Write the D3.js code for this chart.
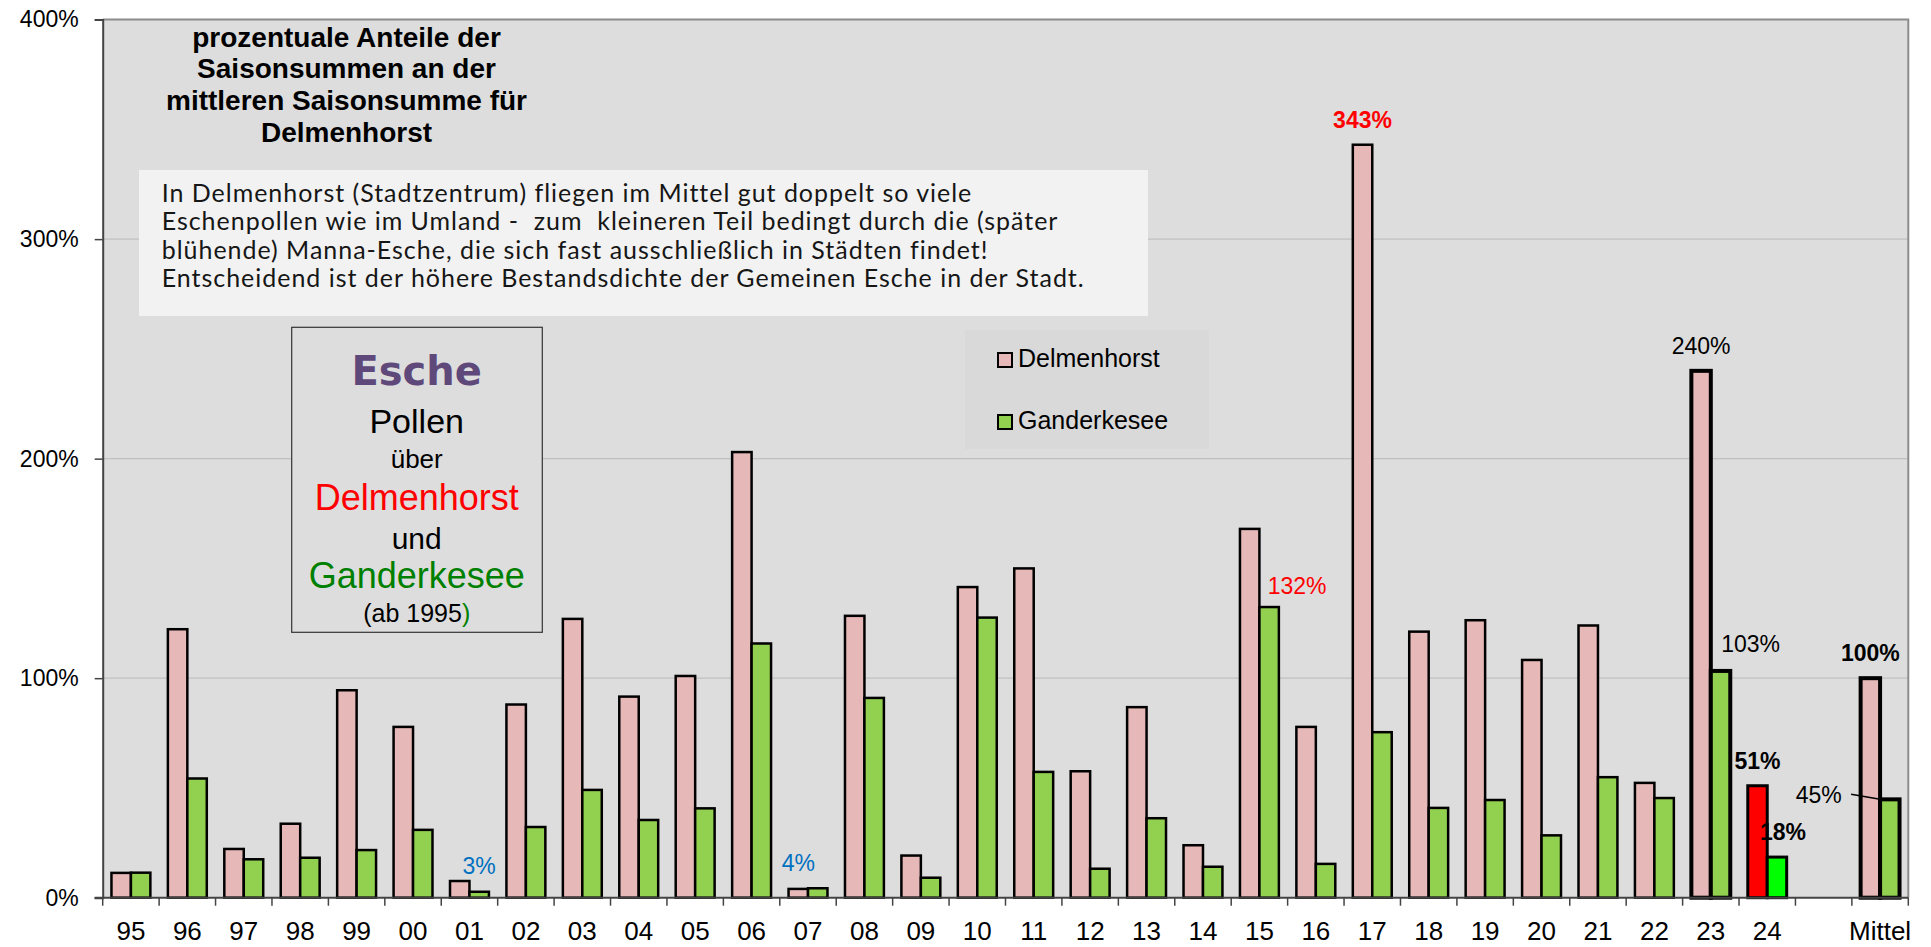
<!DOCTYPE html>
<html>
<head>
<meta charset="utf-8">
<script src="https://cdn.jsdelivr.net/npm/d3@7"></script>
<style>
  body { margin: 0; background: #fff; }
  svg { display: block; }
  .note-text { white-space: pre; }
</style>
</head>
<body>
<div id="chart"></div>
<script>
// Saison categories (95..24, a gap, then the mean)
const categories = ["95","96","97","98","99","00","01","02","03","04","05","06","07","08","09",
  "10","11","12","13","14","15","16","17","18","19","20","21","22","23","24","","Mittel"];

// percent of mean season sum
const delmenhorst = [11.3, 122.3, 22.2, 33.7, 94.5, 77.8, 7.6, 88.0, 127.0, 91.6, 101.0, 203.0, 4.0, 128.4, 19.2,
  141.5, 150.0, 57.6, 86.8, 23.9, 168.0, 77.8, 343.0, 121.2, 126.4, 108.3, 124.0, 52.3, 240.0, 51.0, null, 100.0];
const ganderkesee = [11.4, 54.3, 17.5, 18.2, 21.7, 30.9, 2.7, 32.2, 49.1, 35.4, 40.7, 115.8, 4.3, 91.0, 9.1,
  127.6, 57.3, 13.2, 36.2, 14.1, 132.4, 15.4, 75.4, 40.9, 44.5, 28.4, 54.9, 45.4, 103.3, 18.5, null, 44.8];

const series = ["Delmenhorst", "Ganderkesee"];
const yTicks = [0, 100, 200, 300, 400];

const titleLines = ["prozentuale Anteile der", "Saisonsummen an der", "mittleren Saisonsumme für", "Delmenhorst"];
const noteLines = [
  "In Delmenhorst (Stadtzentrum) fliegen im Mittel gut doppelt so viele",
  "Eschenpollen wie im Umland -  zum  kleineren Teil bedingt durch die (später",
  "blühende) Manna-Esche, die sich fast ausschließlich in Städten findet!",
  "Entscheidend ist der höhere Bestandsdichte der Gemeinen Esche in der Stadt."
];

const width = 1931;
const height = 947;
const plotLeft = 102.7, plotRight = 1908.3, plotTop = 19.6, plotBottom = 897.7;

const svg = d3.select("#chart")
  .append("svg")
  .attr("width", width)
  .attr("height", height)
  .attr("viewBox", [0, 0, width, height]);

const x = d3.scaleBand().domain(categories).range([plotLeft, plotRight]);
const x1 = d3.scaleBand().domain(series).range([0, x.bandwidth()]).paddingOuter(0.45);
const y = d3.scaleLinear().domain([0, 400]).range([plotBottom, plotTop]);

const pink = "#e6b8b7", green = "#92d050";

// plot area
svg.append("rect")
  .attr("x", plotLeft).attr("y", plotTop)
  .attr("width", plotRight - plotLeft).attr("height", plotBottom - plotTop)
  .attr("fill", "#dddddd");

svg.selectAll(".grid")
  .data([100, 200, 300])
  .join("line")
  .attr("class", "grid")
  .attr("x1", plotLeft).attr("x2", plotRight)
  .attr("y1", d => y(d)).attr("y2", d => y(d))
  .attr("stroke", "#c0c0c0")
  .attr("stroke-width", 1.2);

// frame top / right
svg.append("path")
  .attr("d", `M${plotLeft},${plotTop}H${plotRight}V${plotBottom}`)
  .attr("fill", "none")
  .attr("stroke", "#8c8c8c")
  .attr("stroke-width", 2);

// title
svg.append("text")
  .attr("font-family", "Liberation Sans, Arial, sans-serif")
  .attr("font-weight", "bold")
  .attr("font-size", 28)
  .attr("text-anchor", "middle")
  .selectAll("tspan")
  .data(titleLines)
  .join("tspan")
  .attr("x", 346.5)
  .attr("y", (d, i) => 46.5 + i * 31.7)
  .text(d => d);

// note box
svg.append("rect")
  .attr("x", 139).attr("y", 170)
  .attr("width", 1009).attr("height", 146)
  .attr("fill", "#f2f2f2");

const note = svg.append("text")
  .attr("class", "note-text")
  .attr("font-family", "Lato, Open Sans, sans-serif")
  .attr("font-size", 22)
  .attr("fill", "#161616");
note.selectAll("tspan")
  .data(noteLines)
  .join("tspan")
  .attr("x", 161.7)
  .attr("y", (d, i) => 202 + i * 28.3)
  .text(d => d);
// fit the longest line to the width seen in the picture (slightly smaller glyphs, wider spacing)
const lastNode = note.selectAll("tspan").nodes()[3];
const noteSize = 22 * 923 / lastNode.getComputedTextLength() * 0.92;
note.attr("font-size", noteSize);
const spacing = (923 - lastNode.getComputedTextLength()) / noteLines[3].length;
note.attr("letter-spacing", spacing);

// Esche box
svg.append("rect")
  .attr("x", 291.7).attr("y", 327.3)
  .attr("width", 250.6).attr("height", 305)
  .attr("fill", "#dddddd")
  .attr("stroke", "#333")
  .attr("stroke-width", 1.2);

const boxLines = [
  { t: "Esche", y: 385, size: 40, color: "#5f497a", bold: true, font: "DejaVu Sans, sans-serif" },
  { t: "Pollen", y: 433, size: 34, color: "#000" },
  { t: "über", y: 468, size: 26, color: "#000" },
  { t: "Delmenhorst", y: 510, size: 36, color: "#ff0000" },
  { t: "und", y: 549, size: 30, color: "#000" },
  { t: "Ganderkesee", y: 588, size: 36, color: "#008000" }
];
svg.selectAll(".boxline")
  .data(boxLines)
  .join("text")
  .attr("class", "boxline")
  .attr("x", 416.7)
  .attr("y", d => d.y)
  .attr("text-anchor", "middle")
  .attr("font-family", d => d.font || "Liberation Sans, Arial, sans-serif")
  .attr("font-weight", d => d.bold ? "bold" : "normal")
  .attr("font-size", d => d.size)
  .attr("fill", d => d.color)
  .text(d => d.t);

const ab = svg.append("text")
  .attr("x", 416.7).attr("y", 621.7)
  .attr("text-anchor", "middle")
  .attr("font-family", "Liberation Sans, Arial, sans-serif")
  .attr("font-size", 25);
ab.append("tspan").text("(ab 1995");
ab.append("tspan").attr("fill", "#008000").text(")");

// legend
svg.append("rect")
  .attr("x", 965).attr("y", 330)
  .attr("width", 244).attr("height", 119)
  .attr("fill", "#d9d9d9");

const legend = svg.selectAll(".legend")
  .data(series)
  .join("g")
  .attr("class", "legend")
  .attr("transform", (d, i) => `translate(998, ${353 + i * 62})`);
legend.append("rect")
  .attr("width", 14).attr("height", 14)
  .attr("fill", (d, i) => i ? green : pink)
  .attr("stroke", "#000")
  .attr("stroke-width", 2);
legend.append("text")
  .attr("x", 20).attr("y", 14)
  .attr("font-family", "Liberation Sans, Arial, sans-serif")
  .attr("font-size", 25)
  .text(d => d);

// bars
const rows = categories.map((c, i) => ({ cat: c, i, values: [delmenhorst[i], ganderkesee[i]] }))
  .filter(d => d.values[0] != null);

const strokeW = d => (d.cat === "23" || d.cat === "Mittel") ? 4 : d.cat === "24" ? 3 : 2.5;

const groups = svg.selectAll(".grp")
  .data(rows)
  .join("g")
  .attr("class", "grp")
  .attr("transform", d => `translate(${x(d.cat)},0)`);

groups.selectAll("rect")
  .data(d => d.values.map((v, k) => ({ v, k, row: d })))
  .join("rect")
  .attr("x", d => x1(series[d.k]))
  .attr("width", x1.bandwidth())
  .attr("y", d => y(d.v))
  .attr("height", d => y(0) - y(d.v))
  .attr("fill", d => d.row.cat === "24" ? (d.k ? "#00ff00" : "#ff0000") : (d.k ? green : pink))
  .attr("stroke", "#000")
  .attr("stroke-width", d => strokeW(d.row));

// axes
const yAxis = svg.append("g")
  .attr("transform", `translate(${plotLeft},0)`)
  .call(d3.axisLeft(y).tickValues(yTicks).tickFormat(d => d + "%").tickSize(8).tickPadding(16));
yAxis.select(".domain").attr("stroke", "#444").attr("stroke-width", 2);
yAxis.selectAll(".tick line").attr("stroke", "#444").attr("stroke-width", 1.5);
yAxis.selectAll(".tick text")
  .attr("font-family", "Liberation Sans, Arial, sans-serif")
  .attr("font-size", 23)
  .attr("fill", "#000");

svg.append("line")
  .attr("x1", plotLeft - 8).attr("x2", plotRight)
  .attr("y1", plotBottom).attr("y2", plotBottom)
  .attr("stroke", "#444")
  .attr("stroke-width", 2);

svg.selectAll(".xtick")
  .data(d3.range(categories.length + 1))
  .join("line")
  .attr("class", "xtick")
  .attr("x1", i => plotLeft + i * x.step())
  .attr("x2", i => plotLeft + i * x.step())
  .attr("y1", plotBottom).attr("y2", plotBottom + 8)
  .attr("stroke", "#444")
  .attr("stroke-width", 1.5);

svg.selectAll(".xlabel")
  .data(categories)
  .join("text")
  .attr("class", "xlabel")
  .attr("x", d => x(d) + x.bandwidth() / 2)
  .attr("y", 940)
  .attr("text-anchor", "middle")
  .attr("font-family", "Liberation Sans, Arial, sans-serif")
  .attr("font-size", 26)
  .text(d => d);

// annotations
const valueOf = (cat, k) => (k ? ganderkesee : delmenhorst)[categories.indexOf(cat)];
const barMid = (cat, k) => x(cat) + x1(series[k]) + x1.bandwidth() / 2;

const notes = [
  { cat: "01", k: 1, text: "3%", dx: 0, dy: -18, color: "#0070c0" },
  { cat: "07", k: 0, text: "4%", dx: 0, dy: -18, color: "#0070c0" },
  { cat: "15", k: 1, text: "132%", dx: 28, dy: -13, color: "#ff0000" },
  { cat: "17", k: 0, text: "343%", dx: 0, dy: -17, color: "#ff0000", bold: true },
  { cat: "23", k: 0, text: "240%", dx: 0, dy: -17, color: "#000" },
  { cat: "23", k: 1, text: "103%", dx: 30, dy: -19, color: "#000" },
  { cat: "24", k: 0, text: "51%", dx: 0, dy: -17, color: "#000", bold: true },
  { cat: "24", k: 1, text: "18%", dx: 6, dy: -17, color: "#000", bold: true },
  { cat: "Mittel", k: 0, text: "100%", dx: 0, dy: -17, color: "#000", bold: true },
  { cat: "Mittel", k: 1, text: "45%", dx: -48, dy: 4, color: "#000", anchor: "end" }
];

svg.selectAll(".note")
  .data(notes)
  .join("text")
  .attr("class", "note")
  .attr("x", d => barMid(d.cat, d.k) + d.dx)
  .attr("y", d => y(valueOf(d.cat, d.k)) + d.dy)
  .attr("text-anchor", d => d.anchor || "middle")
  .attr("font-family", "Liberation Sans, Arial, sans-serif")
  .attr("font-weight", d => d.bold ? "bold" : "normal")
  .attr("font-size", 23)
  .attr("fill", d => d.color)
  .text(d => d.text);

// leader line for the 45% label
const mx = x("Mittel") + x1("Ganderkesee");
svg.append("line")
  .attr("x1", mx - 29).attr("y1", y(valueOf("Mittel", 1)) - 5)
  .attr("x2", mx).attr("y2", y(valueOf("Mittel", 1)))
  .attr("stroke", "#000")
  .attr("stroke-width", 1.5);
</script>
</body>
</html>
